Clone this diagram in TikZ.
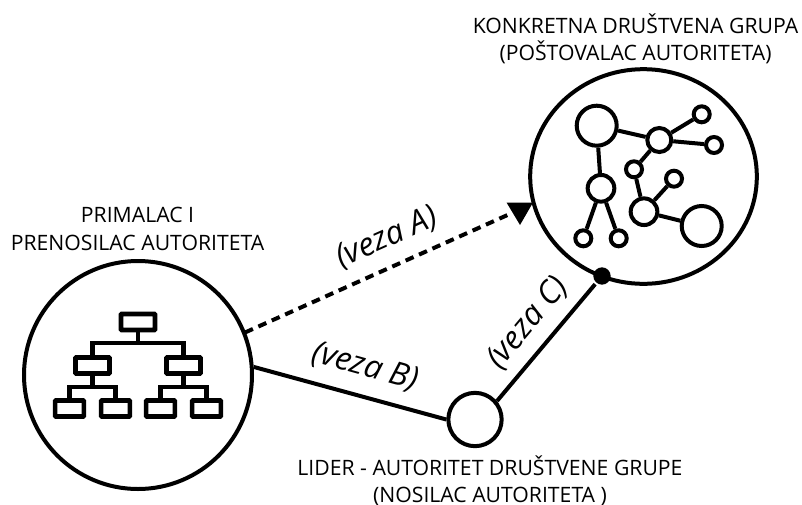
\documentclass[tikz,border=0pt]{standalone}
\usepackage{fontspec}
\setmainfont{Open Sans}
\usetikzlibrary{shapes.geometric}
\tikzset{
    ring/.style={circle,draw,line width=3pt,inner sep=0pt,fill=white},
    orgbox/.style={rectangle,draw,line width=3.4pt,inner sep=0pt,rounded corners=0.5pt,fill=white},
    orgline/.style={line width=3.4pt},
    caption/.style={align=center,font=\fontsize{15.9pt}{20.4pt}\selectfont},
    vezalabel/.style={font=\fontsize{24pt}{26pt}\selectfont\itshape},
}
\begin{document}
\begin{tikzpicture}[x=0.75pt,y=-0.75pt,line width=3pt]
    \useasboundingbox (0,0) rectangle (802,504);

    % outer circles
    \node[ring,minimum size=171pt] (prim) at (138,375) {};
    \node[ring,ellipse,minimum width=170pt,minimum height=161pt] (grupa) at (643.5,176.5) {};
    \node[ring,minimum size=40pt] (lider) at (475,419.5) {};
    \node[circle,fill,inner sep=0pt,minimum size=13pt] (tacka) at (602,276) {};

    % hierarchy
    \node[orgbox,minimum width=25.5pt,minimum height=12pt] (t) at (138,322) {};

    \node[orgbox,minimum width=25.5pt,minimum height=12pt] (m1) at (92.5,365.5) {};
    \node[orgbox,minimum width=25.5pt,minimum height=12pt] (m2) at (183.5,365.5) {};

    \node[orgbox,minimum width=21.5pt,minimum height=12pt] (b1) at (69.5,408.5) {};
    \node[orgbox,minimum width=21.5pt,minimum height=12pt] (b2) at (115.5,408.5) {};
    \node[orgbox,minimum width=21.5pt,minimum height=12pt] (b3) at (160.5,408.5) {};
    \node[orgbox,minimum width=21.5pt,minimum height=12pt] (b4) at (206.5,408.5) {};

    \coordinate (bt) at (138,343);
    \coordinate (bm1) at (92.5,387);
    \coordinate (bm2) at (183.5,387);

    \draw[orgline] (t) -- (bt);
    \draw[orgline] (m1) |- (bt) -| (m2);
    \draw[orgline] (m1) -- (bm1);
    \draw[orgline] (m2) -- (bm2);
    \draw[orgline] (b1) |- (bm1) -| (b2);
    \draw[orgline] (b3) |- (bm2) -| (b4);

    % network
    \node[ring,minimum size=30pt] (n1) at (596.7,125.7) {};
    \node[ring,minimum size=18pt] (n2) at (659.3,140) {};
    \node[ring,minimum size=12pt] (n3) at (701.7,114.3) {};
    \node[ring,minimum size=12pt] (n4) at (714,145) {};
    \node[ring,minimum size=12pt] (n5) at (634,169.3) {};
    \node[ring,minimum size=12pt] (n6) at (674,178.7) {};
    \node[ring,minimum size=20pt] (n7) at (644,211.7) {};
    \node[ring,minimum size=30pt] (n8) at (701.7,226) {};
    \node[ring,minimum size=20pt] (n9) at (601,188.3) {};
    \node[ring,minimum size=12pt] (n10) at (583.3,238.3) {};
    \node[ring,minimum size=12pt] (n11) at (618.7,238.3) {};

    \draw (n1) -- (n2) -- (n3);
    \draw (n2) -- (n4);
    \draw (n2) -- (n5) -- (n7) -- (n6);
    \draw (n7) -- (n8);
    \draw (n1) -- (n9) -- (n10);
    \draw (n9) -- (n11);

    % connections
    \coordinate (a0) at (245,332.5);
    \coordinate (a1) at (512,213);
    \coordinate (v1) at (506.5,202.5);
    \coordinate (v2) at (533,202.5);
    \coordinate (v3) at (520,225);
    \draw[dash pattern=on 6.5pt off 4.5pt] (a0) -- (a1);
    \fill (v1) -- (v2) -- (v3) -- cycle;
    \draw (prim.4.5) -- (lider.180);
    \draw (lider.40) -- (tacka);

    % labels
    \node[caption] (lgrupa) at (635.5,39) {KONKRETNA DRUŠTVENA GRUPA\\(POŠTOVALAC AUTORITETA)};
    \node[caption] (lprim) at (137.5,229) {PRIMALAC I\\PRENOSILAC AUTORITETA};
    \node[caption] (llider) at (490,481) {LIDER - AUTORITET DRUŠTVENE GRUPE\\(NOSILAC AUTORITETA )};
    \node[vezalabel,rotate=24] (la) at (387,238) {(veza A)};
    \node[vezalabel,rotate=-15.5] (lb) at (365,367) {(veza B)};
    \node[vezalabel,rotate=50] (lc) at (528,323) {(veza C)};
\end{tikzpicture}
\end{document}
